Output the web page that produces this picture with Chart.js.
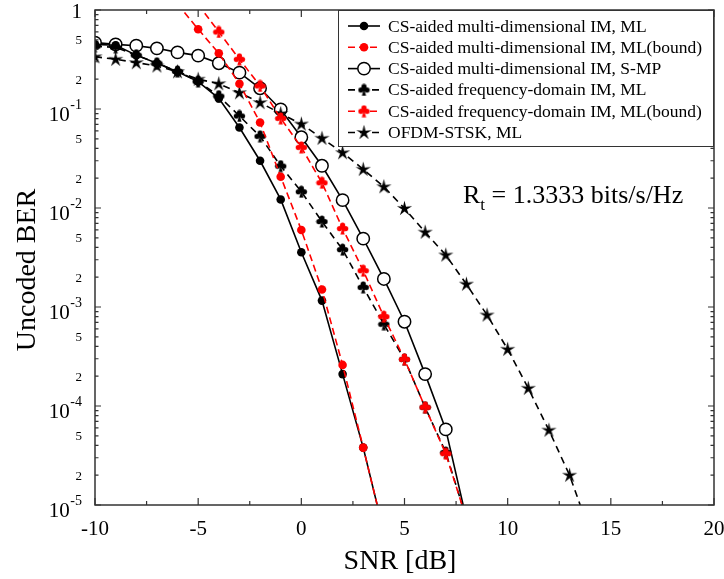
<!DOCTYPE html>
<html lang="en">
<head>
<meta charset="UTF-8">
<title>Uncoded BER vs SNR</title>
<script src="https://cdn.jsdelivr.net/npm/chart.js"></script>
<style>
  body { margin: 0; background: #fff; }
</style>
</head>
<body>
<canvas id="berChart" width="724" height="579"></canvas>
<script>
// SNR (dB) and uncoded BER for each scheme
var snrMl = [-10, -9, -8, -7, -6, -5, -4, -3, -2, -1, 0, 1, 2, 3, 4];
var berMl = [0.45, 0.44, 0.35, 0.29, 0.238, 0.189, 0.128, 0.065, 0.030, 0.0122, 0.00357, 0.00116, 2.1e-4, 3.8e-5, 5.3e-6];

var snrMlBound = [-6, -5, -4, -3, -2, -1, 0, 1, 2, 3, 4];
var berMlBound = [1.15, 0.64, 0.365, 0.18, 0.073, 0.0207, 0.006, 0.0015, 2.6e-4, 3.8e-5, 5.3e-6];

var snrSmp = [-10, -9, -8, -7, -6, -5, -4, -3, -2, -1, 0, 1, 2, 3, 4, 5, 6, 7, 8];
var berSmp = [0.468, 0.45, 0.436, 0.41, 0.373, 0.346, 0.29, 0.233, 0.162, 0.099, 0.0518, 0.0267, 0.012, 0.0049, 0.00192, 7.1e-4, 2.1e-4, 5.8e-5, 7.2e-6];

var snrFd = [-10, -9, -8, -7, -6, -5, -4, -3, -2, -1, 0, 1, 2, 3, 4, 5, 6, 7, 8];
var berFd = [0.43, 0.42, 0.35, 0.29, 0.24, 0.19, 0.135, 0.085, 0.053, 0.0265, 0.0146, 0.0073, 0.0038, 0.00158, 6.7e-4, 2.96e-4, 9.7e-5, 3.4e-5, 7.3e-6];

var snrFdBound = [-5, -4, -3, -2, -1, 0, 1, 2, 3, 4, 5, 6, 7, 8];
var berFdBound = [1.14, 0.60, 0.318, 0.171, 0.0805, 0.041, 0.018, 0.0062, 0.00233, 8e-4, 2.96e-4, 9.7e-5, 3.3e-5, 7.3e-6];

var snrOfdm = [-10, -9, -8, -7, -6, -5, -4, -3, -2, -1, 0, 1, 2, 3, 4, 5, 6, 7, 8, 9, 10, 11, 12, 13, 14];
var berOfdm = [0.337, 0.318, 0.294, 0.272, 0.238, 0.2, 0.18, 0.146, 0.116, 0.09, 0.0705, 0.0506, 0.0362, 0.0246, 0.0164, 0.0099, 0.0057, 0.00335, 0.0017, 8.3e-4, 3.74e-4, 1.51e-4, 5.7e-5, 2.0e-5, 5.2e-6];

var seriesNames = [
    'CS-aided multi-dimensional IM, ML',
    'CS-aided multi-dimensional IM, ML(bound)',
    'CS-aided multi-dimensional IM, S-MP',
    'CS-aided frequency-domain IM, ML',
    'CS-aided frequency-domain IM, ML(bound)',
    'OFDM-STSK, ML'
];

// axis ticks
var xTicks = [-10, -5, 0, 5, 10, 15, 20];
var xMinorTicks = [-7.5, -2.5, 2.5, 7.5, 12.5, 17.5];
var yDecades = [1e-5, 1e-4, 1e-3, 1e-2, 1e-1, 1];
var yLabelledMinors = [2, 5];

var SERIF = '"Liberation Serif", "Times New Roman", serif';
var RED = '#ff0000';
var LINE_W = 1.6;

function pts(xs, ys) {
    return xs.map(function (x, i) { return { x: x, y: ys[i] }; });
}

// club symbol
function makeClub(color) {
    var s = 13, c = document.createElement('canvas');
    c.width = s; c.height = s;
    var g = c.getContext('2d');
    g.fillStyle = color;
    var r = 2.6;
    [[6.5, 3.2], [3.4, 6.6], [9.6, 6.6]].forEach(function (p) {
        g.beginPath(); g.arc(p[0], p[1], r, 0, Math.PI * 2); g.fill();
    });
    g.beginPath(); g.arc(6.5, 5.8, 2, 0, Math.PI * 2); g.fill();
    g.beginPath();
    g.moveTo(6.5, 5.5); g.lineTo(4.3, 12.5); g.lineTo(8.7, 12.5); g.closePath();
    g.fill();
    return c;
}

// slim five-pointed star
function makeStar(color) {
    var s = 17, c = document.createElement('canvas');
    c.width = s; c.height = s;
    var g = c.getContext('2d');
    g.fillStyle = color;
    g.beginPath();
    for (var i = 0; i < 10; i++) {
        var rad = i % 2 === 0 ? 8 : 2.6;
        var a = -Math.PI / 2 + i * Math.PI / 5;
        var px = 8.5 + rad * Math.cos(a), py = 8.8 + rad * Math.sin(a);
        if (i === 0) g.moveTo(px, py); else g.lineTo(px, py);
    }
    g.closePath();
    g.fill();
    return c;
}

var clubBlack = makeClub('#000');
var clubRed = makeClub(RED);
var star = makeStar('#000');

var datasets = [
    {
        label: seriesNames[0], data: pts(snrMl, berMl), order: 3,
        borderColor: '#000', borderWidth: LINE_W,
        pointStyle: 'circle', pointRadius: 4.3, pointBackgroundColor: '#000', pointBorderWidth: 0
    },
    {
        label: seriesNames[1], data: pts(snrMlBound, berMlBound), order: 1,
        borderColor: RED, borderWidth: LINE_W, borderDash: [7, 4],
        pointStyle: 'circle', pointRadius: 4.3, pointBackgroundColor: RED, pointBorderWidth: 0
    },
    {
        label: seriesNames[2], data: pts(snrSmp, berSmp), order: 6,
        borderColor: '#000', borderWidth: LINE_W,
        pointStyle: 'circle', pointRadius: 6.2, pointBackgroundColor: '#fff',
        pointBorderColor: '#000', pointBorderWidth: 1.5
    },
    {
        label: seriesNames[3], data: pts(snrFd, berFd), order: 5,
        borderColor: '#000', borderWidth: LINE_W, borderDash: [7, 5],
        pointStyle: clubBlack
    },
    {
        label: seriesNames[4], data: pts(snrFdBound, berFdBound), order: 2,
        borderColor: RED, borderWidth: LINE_W, borderDash: [7, 4],
        pointStyle: clubRed
    },
    {
        label: seriesNames[5], data: pts(snrOfdm, berOfdm), order: 4,
        borderColor: '#000', borderWidth: LINE_W, borderDash: [7, 5],
        pointStyle: star
    }
];

// frame, ticks, tick labels, titles, legend and annotation
var decorations = {
    id: 'decorations',
    afterDraw: function (chart) {
        var ctx = chart.ctx, a = chart.chartArea;
        var xs = chart.scales.x, ys = chart.scales.y;
        ctx.save();

        ctx.strokeStyle = '#333';
        ctx.lineWidth = 1.5;
        ctx.strokeRect(a.left, a.top, a.right - a.left, a.bottom - a.top);

        function vTick(px, len) {
            ctx.beginPath();
            ctx.moveTo(px, a.bottom); ctx.lineTo(px, a.bottom - len);
            ctx.moveTo(px, a.top); ctx.lineTo(px, a.top + len);
            ctx.stroke();
        }
        function hTick(py, len) {
            ctx.beginPath();
            ctx.moveTo(a.left, py); ctx.lineTo(a.left + len, py);
            ctx.moveTo(a.right, py); ctx.lineTo(a.right - len, py);
            ctx.stroke();
        }
        ctx.lineWidth = 1.2;
        xTicks.forEach(function (v) { vTick(xs.getPixelForValue(v), 7); });
        xMinorTicks.forEach(function (v) { vTick(xs.getPixelForValue(v), 4); });
        yDecades.forEach(function (d) {
            hTick(ys.getPixelForValue(d), 6);
            if (d < 1) {
                for (var m = 2; m <= 9; m++) hTick(ys.getPixelForValue(m * d), 3.5);
            }
        });

        ctx.fillStyle = '#000';

        // x tick labels
        ctx.font = '21px ' + SERIF;
        ctx.textAlign = 'center';
        ctx.textBaseline = 'alphabetic';
        xTicks.forEach(function (v) {
            ctx.fillText(String(v), xs.getPixelForValue(v), a.bottom + 30);
        });

        // y tick labels
        var lx = 82;
        yDecades.forEach(function (d) {
            var py = ys.getPixelForValue(d);
            var e = Math.round(Math.log10(d));
            ctx.textAlign = 'right';
            ctx.textBaseline = 'alphabetic';
            if (e === 0) {
                ctx.font = '21px ' + SERIF;
                ctx.fillText('1', lx, py + 8);
            } else {
                var sup = String(e);
                ctx.font = '14px ' + SERIF;
                ctx.fillText(sup, lx, py);
                var w = ctx.measureText(sup).width;
                ctx.font = '21px ' + SERIF;
                ctx.fillText('10', lx - w - 0.5, py + 12);
            }
            if (d < 1) {
                ctx.font = '13px ' + SERIF;
                ctx.textBaseline = 'middle';
                yLabelledMinors.forEach(function (m) {
                    ctx.fillText(String(m), lx, ys.getPixelForValue(m * d) + 1);
                });
            }
        });

        // axis titles
        ctx.font = '28px ' + SERIF;
        ctx.textAlign = 'center';
        ctx.textBaseline = 'alphabetic';
        ctx.fillText('SNR [dB]', 400, 569);
        ctx.save();
        ctx.translate(35, 270);
        ctx.rotate(-Math.PI / 2);
        ctx.fillText('Uncoded BER', 0, 0);
        ctx.restore();

        // rate annotation
        ctx.textAlign = 'left';
        var tx = 463, ty = 203;
        ctx.font = '26px ' + SERIF;
        ctx.fillText('R', tx, ty);
        tx += ctx.measureText('R').width;
        ctx.font = '17px ' + SERIF;
        ctx.fillText('t', tx, ty + 7);
        tx += ctx.measureText('t').width;
        ctx.font = '26px ' + SERIF;
        ctx.fillText(' = 1.3333 bits/s/Hz', tx, ty);

        // legend
        var bx = 338, by = a.top, bw = a.right - bx, bh = 137;
        ctx.fillStyle = '#fff';
        ctx.fillRect(bx, by, bw, bh);
        ctx.strokeStyle = '#333';
        ctx.lineWidth = 1;
        ctx.strokeRect(bx + 0.5, by + 0.5, bw - 1, bh - 1);
        ctx.font = '17.5px ' + SERIF;
        ctx.textBaseline = 'middle';
        chart.data.datasets.forEach(function (ds, i) {
            var ry = by + 16 + i * 21.3;
            ctx.save();
            ctx.strokeStyle = ds.borderColor;
            ctx.lineWidth = LINE_W;
            ctx.setLineDash(ds.borderDash || []);
            ctx.beginPath();
            ctx.moveTo(348, ry); ctx.lineTo(380, ry);
            ctx.stroke();
            ctx.setLineDash([]);
            if (ds.pointStyle === 'circle') {
                ctx.beginPath();
                ctx.arc(364, ry, ds.pointRadius, 0, Math.PI * 2);
                ctx.fillStyle = ds.pointBackgroundColor;
                ctx.fill();
                if (ds.pointBorderWidth) {
                    ctx.strokeStyle = ds.pointBorderColor;
                    ctx.lineWidth = ds.pointBorderWidth;
                    ctx.stroke();
                }
            } else {
                var img = ds.pointStyle;
                ctx.drawImage(img, 364 - img.width / 2, ry - img.height / 2);
            }
            ctx.restore();
            ctx.fillStyle = '#000';
            ctx.textAlign = 'left';
            ctx.fillText(ds.label, 388, ry + 1);
        });

        ctx.restore();
    }
};

new Chart(document.getElementById('berChart').getContext('2d'), {
    type: 'line',
    data: { datasets: datasets },
    options: {
        responsive: false,
        animation: false,
        events: [],
        layout: { padding: { left: 95, top: 10, right: 10, bottom: 74 } },
        elements: { line: { tension: 0, fill: false } },
        scales: {
            x: { type: 'linear', min: -10, max: 20, display: false },
            y: { type: 'logarithmic', min: 1e-5, max: 1, display: false }
        },
        plugins: {
            legend: { display: false },
            tooltip: { enabled: false }
        }
    },
    plugins: [decorations]
});
</script>
</body>
</html>
